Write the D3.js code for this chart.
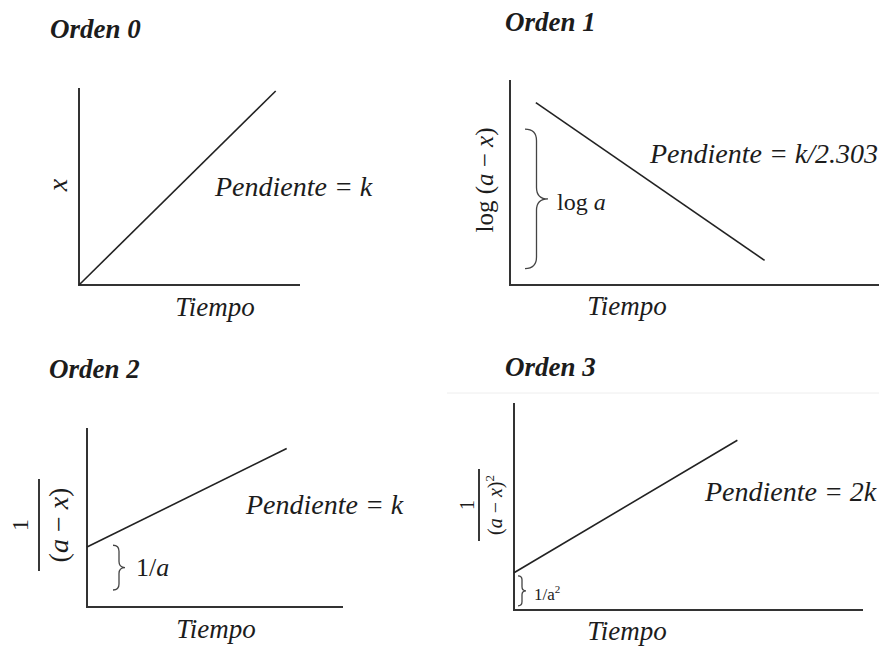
<!DOCTYPE html>
<html>
<head>
<meta charset="utf-8">
<script src="https://cdn.jsdelivr.net/npm/d3@7"></script>
<style>
  body { margin: 0; background: #fff; }
  svg { display: block; }
  text { font-family: "Liberation Serif", "Times New Roman", serif; fill: #1c1c1c; }
</style>
</head>
<body>
<div id="chart"></div>
<script>
// ---- data (axis units 0..10 on both axes of every panel) ----
const panelTitles = ["Orden 0", "Orden 1", "Orden 2", "Orden 3"];
const slopeLabels = ["Pendiente = k", "Pendiente = k/2.303", "Pendiente = k", "Pendiente = 2k"];
const xAxisLabel = "Tiempo";
const lineStart = [[0, 0], [0.7, 8.9], [0, 3.35], [0, 1.8]];
const lineEnd = [[8.9, 9.85], [6.9, 1.2], [7.8, 8.85], [6.4, 8.2]];
const braceRanges = [null, [0.8, 7.6], [0.95, 3.45], [0.2, 1.65]];
const braceLabels = [
  null,
  [{ t: "log " }, { t: "a", i: true }],
  [{ t: "1/" }, { t: "a", i: true }],
  [{ t: "1/a" }, { t: "2", sup: true }]
];
const yNumerators = [null, null, "1", "1"];
const yLabels = [
  [{ t: "x", i: true }],
  [{ t: "log (" }, { t: "a", i: true }, { t: " − " }, { t: "x", i: true }, { t: ")" }],
  [{ t: "(" }, { t: "a", i: true }, { t: " − " }, { t: "x", i: true }, { t: ")" }],
  [{ t: "(" }, { t: "a", i: true }, { t: " − " }, { t: "x", i: true }, { t: ")" }, { t: "2", sup: true }]
];

// ---- layout ----
const W = 885, H = 647;
const layout = [
  { ax: [79, 300], ay: [285, 88], title: [50, 38], slope: [215, 196], tiempo: [215, 316],
    ylab: { x: 67, y: 185, size: 28 } },
  { ax: [510, 879], ay: [285, 80], title: [505, 31], slope: [650, 163], tiempo: [627, 315],
    ylab: { x: 493, y: 180, size: 25 },
    brace: { x: 525, w: 23 }, braceLab: { x: 557, y: 210, size: 24 } },
  { ax: [87, 343], ay: [607, 428], title: [49, 378], slope: [246, 514], tiempo: [216, 638],
    ylab: { x: 39, y: 525, size: 28, numSize: 24, num: -11, den: 29, half: 46 },
    brace: { x: 113, w: 12 }, braceLab: { x: 136, y: 576, size: 26 } },
  { ax: [514, 863], ay: [610, 403], title: [505, 376], slope: [705, 501], tiempo: [627, 640],
    ylab: { x: 479, y: 505, size: 20, numSize: 20, num: -5, den: 23, half: 36 },
    brace: { x: 518, w: 8 }, braceLab: { x: 534, y: 600, size: 17 } }
];

const svg = d3.select("#chart").append("svg")
  .attr("width", W)
  .attr("height", H)
  .attr("viewBox", `0 0 ${W} ${H}`);

svg.append("rect").attr("width", W).attr("height", H).attr("fill", "#fff");

// faint scan line above the last panel
svg.append("line")
  .attr("x1", 447).attr("x2", 879).attr("y1", 393).attr("y2", 393)
  .attr("stroke", "#eeeeee").attr("stroke-width", 1);

function addSegments(textSel, segs, size) {
  segs.forEach(s => {
    const ts = textSel.append("tspan").text(s.t);
    if (s.i) ts.attr("font-style", "italic");
    if (s.sup) ts.attr("font-size", size * 0.65).attr("dy", -size * 0.42);
  });
}

function bracePath(x0, yTop, yBot, w) {
  const xm = x0 + w * 0.5, ym = (yTop + yBot) / 2;
  const r = Math.min(w * 0.5, (yBot - yTop) / 4);
  const p = d3.path();
  p.moveTo(x0, yTop);
  p.quadraticCurveTo(xm, yTop, xm, yTop + r);
  p.lineTo(xm, ym - r);
  p.quadraticCurveTo(xm, ym, x0 + w, ym);
  p.quadraticCurveTo(xm, ym, xm, ym + r);
  p.lineTo(xm, yBot - r);
  p.quadraticCurveTo(xm, yBot, x0, yBot);
  return p.toString();
}

layout.forEach((L, i) => {
  const g = svg.append("g").attr("class", "panel");
  const x = d3.scaleLinear().domain([0, 10]).range(L.ax);
  const y = d3.scaleLinear().domain([0, 10]).range(L.ay);

  // title
  g.append("text")
    .attr("x", L.title[0]).attr("y", L.title[1])
    .attr("font-size", 27).attr("font-weight", "bold").attr("font-style", "italic")
    .text(panelTitles[i]);

  // axes (L-shaped frame)
  const axis = d3.line().x(d => x(d[0])).y(d => y(d[1]));
  g.append("path")
    .attr("d", axis([[0, 10], [0, 0], [10, 0]]))
    .attr("fill", "none").attr("stroke", "#333").attr("stroke-width", 2);

  // data line
  g.append("path")
    .attr("d", axis([lineStart[i], lineEnd[i]]))
    .attr("fill", "none").attr("stroke", "#222").attr("stroke-width", 1.6);

  // slope label
  g.append("text")
    .attr("x", L.slope[0]).attr("y", L.slope[1])
    .attr("font-size", 28).attr("font-style", "italic")
    .text(slopeLabels[i]);

  // x label
  g.append("text")
    .attr("x", L.tiempo[0]).attr("y", L.tiempo[1])
    .attr("text-anchor", "middle")
    .attr("font-size", 27).attr("font-style", "italic")
    .text(xAxisLabel);

  // y label (rotated)
  const yl = g.append("g").attr("transform", `translate(${L.ylab.x},${L.ylab.y}) rotate(-90)`);
  if (yNumerators[i]) {
    yl.append("text")
      .attr("y", L.ylab.num).attr("text-anchor", "middle")
      .attr("font-size", L.ylab.numSize)
      .text(yNumerators[i]);
    yl.append("line")
      .attr("x1", -L.ylab.half).attr("x2", L.ylab.half)
      .attr("stroke", "#222").attr("stroke-width", 1.8);
    const den = yl.append("text")
      .attr("y", L.ylab.den).attr("text-anchor", "middle")
      .attr("font-size", L.ylab.size);
    addSegments(den, yLabels[i], L.ylab.size);
  } else {
    const t = yl.append("text")
      .attr("text-anchor", "middle")
      .attr("font-size", L.ylab.size);
    addSegments(t, yLabels[i], L.ylab.size);
  }

  // intercept brace
  if (braceRanges[i]) {
    const [b0, b1] = braceRanges[i];
    g.append("path")
      .attr("d", bracePath(L.brace.x, y(b1), y(b0), L.brace.w))
      .attr("fill", "none").attr("stroke", "#444").attr("stroke-width", 1.3);
    const bl = g.append("text")
      .attr("x", L.braceLab.x).attr("y", L.braceLab.y)
      .attr("font-size", L.braceLab.size);
    addSegments(bl, braceLabels[i], L.braceLab.size);
  }
});
</script>
</body>
</html>
